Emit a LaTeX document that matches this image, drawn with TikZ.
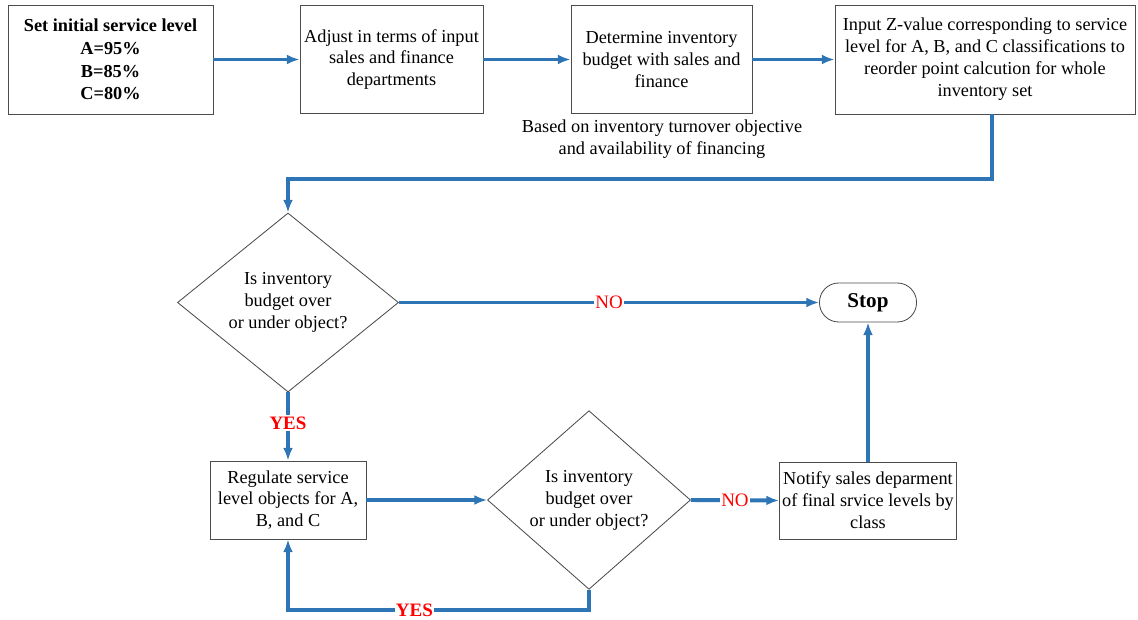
\documentclass[tikz,border=0pt]{standalone}
\usepackage{fontspec}
\setmainfont{Liberation Serif}
\usepackage{tikz}
\usetikzlibrary{arrows.meta,shapes.geometric}
\definecolor{flowblue}{RGB}{46,117,182}
\definecolor{answerred}{RGB}{255,0,0}

\begin{document}
\begin{tikzpicture}[x=0.025cm, y=-0.025cm,
  box/.style={draw=black!70, line width=0.6pt, align=center, inner sep=2pt, font=\fontsize{13}{15.6}\selectfont},
  decision/.style={box, diamond, inner sep=0pt},
  flow/.style={draw=flowblue, line width=2.8pt, -{Latex[length=9pt,width=7pt]}},
  answer/.style={text=answerred, fill=white, inner sep=1pt, font=\fontsize{13.5}{15}\selectfont}]
\useasboundingbox (0,0) rectangle (1138,619);
\node[box, minimum width=5.125cm, minimum height=2.725cm, font=\fontsize{13}{16.2}\selectfont\bfseries] (init) at (110.5,59.5) {Set initial service level\\A=95\%\\B=85\%\\C=80\%};
\node[box, minimum width=4.575cm, minimum height=2.7cm] (adjust) at (391.5,59.5) {Adjust in terms of input\\sales and finance\\departments};
\node[box, minimum width=4.525cm, minimum height=2.7cm] (budget) at (661.5,59.5) {Determine inventory\\budget with sales and\\finance};
\node[box, minimum width=7.5cm, minimum height=2.725cm] (zval) at (985,59.5) {Input Z-value corresponding to service\\level for A, B, and C classifications to\\reorder point calcution for whole\\inventory set};
\node[align=center, font=\fontsize{13}{15.6}\selectfont] (note) at (662,139) {Based on inventory turnover objective\\and availability of financing};
\node[decision, minimum width=5.525cm, minimum height=4.475cm] (dec1) at (288,302.5) {Is inventory\\budget over\\or under object?};
\node[box, minimum width=2.425cm, minimum height=0.975cm, rounded corners=0.48cm, font=\fontsize{15}{17}\selectfont\bfseries] (stop) at (868,302.5) {Stop};
\node[box, minimum width=3.9cm, minimum height=1.95cm] (reg) at (288,500) {Regulate service\\level objects for A,\\B, and C};
\node[decision, minimum width=5.075cm, minimum height=4.1cm] (dec2) at (589,500) {Is inventory\\budget over\\or under object?};
\node[box, minimum width=4.425cm, minimum height=1.925cm] (notify) at (868,500.5) {Notify sales deparment\\of final srvice levels by\\class};
\coordinate (turn) at (992,179);
\coordinate (loop) at (589,610);
\draw[flow] (init) -- (adjust);
\draw[flow] (adjust) -- (budget);
\draw[flow] (budget) -- (zval);
\draw[flow] (zval.south -| turn) -- (turn) -| (dec1.north);
\draw[flow] (dec1.east) -- node[answer, pos=0.5] {NO} (stop.west);
\draw[flow] (dec1.south) -- node[answer, pos=0.45, font=\fontsize{13.5}{15}\selectfont\bfseries] {YES} (reg.north);
\draw[flow] (reg.east) -- (dec2.west);
\draw[flow] (dec2.east) -- node[answer, pos=0.5] {NO} (notify.west);
\draw[flow] (notify.north) -- (stop.south);
\draw[flow] (dec2.south) -- (loop) -| node[answer, pos=0.29, font=\fontsize{13.5}{15}\selectfont\bfseries] {YES} (reg.south);
\end{tikzpicture}
\end{document}
